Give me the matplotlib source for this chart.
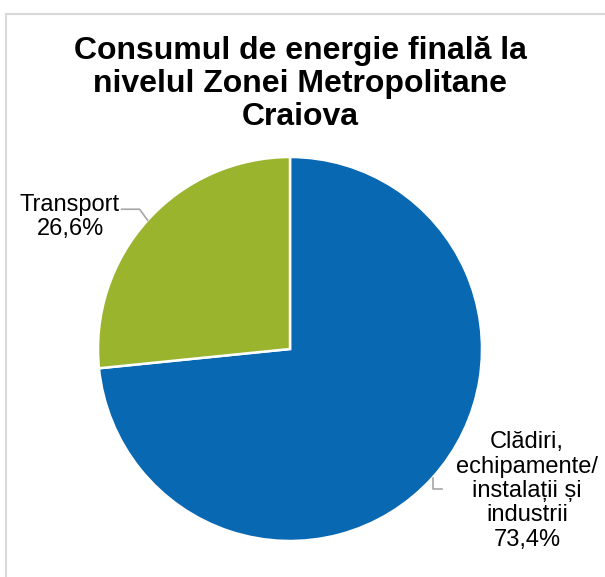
import numpy as np
import matplotlib
matplotlib.use('Agg')
import matplotlib.pyplot as plt
from matplotlib.patches import Rectangle

plt.rcParams['font.family'] = ['Liberation Sans', 'DejaVu Sans']

# =========================
# data
# =========================
title = 'Consumul de energie finală la\nnivelul Zonei Metropolitane\nCraiova'
categories = ['Clădiri,\nechipamente/\ninstalații și\nindustrii', 'Transport']
values = [73.4, 26.6]
colors = ['#0868B2', '#9BB42E']

W, H = 605, 577
fig = plt.figure(figsize=(W / 100, H / 100), dpi=100)
ax = fig.add_axes([0, 0, 1, 1])

# pie in pixel coordinates (y up)
cx, cy, r = 290, H - 349, 192
wedges, _ = ax.pie(values, colors=colors, startangle=90, counterclock=False,
                   center=(cx, cy), radius=r,
                   wedgeprops=dict(edgecolor='white', linewidth=1.8))
ax.set_xlim(0, W)
ax.set_ylim(0, H)
ax.set_aspect('equal')
ax.axis('off')

# outer frame (chart area border)
ax.add_patch(Rectangle((6, -10), W + 10, H - 14 + 10, fill=False,
                       edgecolor='#D9D9D9', linewidth=1.5, clip_on=False))

ax.text(300, H - 84, title, ha='center', va='center', fontsize=23,
        fontweight='bold', linespacing=1.12)

labels = ['%s\n%s%%' % (c, ('%.1f' % v).replace('.', ',')) for c, v in zip(categories, values)]

# leader lines from wedge mid-angle on the rim
mid = [(w.theta1 + w.theta2) / 2 for w in wedges]
ex = [cx + r * np.cos(np.radians(a)) for a in mid]
ey = [cy + r * np.sin(np.radians(a)) for a in mid]

# blue slice label (right bottom)
ax.plot([ex[0] + 1, ex[0] + 1, ex[0] + 10], [ey[0], ey[0] - 11, ey[0] - 11],
        color='#A6A6A6', lw=1.2)
ax.text(527, H - 491, labels[0], ha='center', va='center', fontsize=17,
        linespacing=1.14)

# green slice label (left top)
ax.plot([ex[1], ex[1] - 8, ex[1] - 26], [ey[1], ey[1] + 11, ey[1] + 11],
        color='#A6A6A6', lw=1.2)
ax.text(70, H - 217, labels[1], ha='center', va='center', fontsize=17,
        linespacing=1.14)

fig.savefig('out.png', dpi=100)
